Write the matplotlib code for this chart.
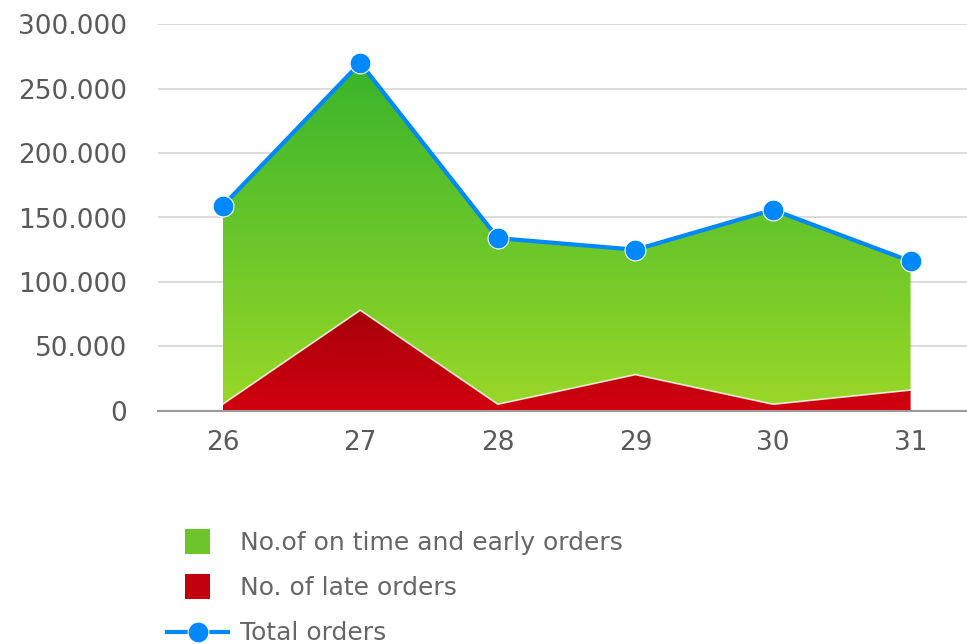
import numpy as np
import matplotlib
matplotlib.use('Agg')
import matplotlib.pyplot as plt
from matplotlib.colors import LinearSegmentedColormap
from matplotlib.patches import PathPatch, Patch, Rectangle
from matplotlib.lines import Line2D
from matplotlib.legend_handler import HandlerPatch
from matplotlib.ticker import FuncFormatter

# data
days = ['26', '27', '28', '29', '30', '31']
late_orders = [5000, 78000, 5000, 28000, 5000, 16000]
ontime_orders = [154000, 192000, 129000, 97000, 151000, 100000]
total_orders = [159000, 270000, 134000, 125000, 156000, 116000]

plt.rcParams['font.family'] = ['DejaVu Sans']

fig = plt.figure(figsize=(9.67, 6.44), dpi=100)
ax = fig.add_axes([158 / 967, 1 - 410.7 / 644, 1 - 158 / 967, (410.7 - 24.3) / 644])

x = np.arange(len(days))
late = np.array(late_orders)
stack_top = late + np.array(ontime_orders)


def gradient_fill(lower, upper, c_bottom, c_top, zorder):
    poly = ax.fill_between(x, lower, upper, color='none', linewidth=0)
    path = poly.get_paths()[0]
    clip = PathPatch(path, transform=ax.transData, facecolor='none', edgecolor='none')
    ax.add_patch(clip)
    cmap = LinearSegmentedColormap.from_list('g', [c_bottom, c_top])
    grad = np.linspace(0, 1, 256).reshape(-1, 1)
    im = ax.imshow(grad, extent=[x[0], x[-1], 0, max(upper)], aspect='auto',
                   cmap=cmap, origin='lower', zorder=zorder, interpolation='bilinear')
    im.set_clip_path(clip)


gradient_fill(late, stack_top, '#9ad828', '#38b42b', 2)
gradient_fill(np.zeros(len(x)), late, '#d2000f', '#a6000a', 3)
ax.plot(x, late, color='white', linewidth=1.2, alpha=0.8, zorder=4)

ax.plot(x, total_orders, color='#0088ff', linewidth=3, marker='o', markersize=15,
        markeredgecolor='white', markeredgewidth=0.8, zorder=5, clip_on=False)

ax.set_xlim(-0.47, 5.41)
ax.set_ylim(0, 300000)
ax.set_yticks(np.arange(0, 300001, 50000))
ax.yaxis.set_major_formatter(FuncFormatter(lambda v, p: '{:,.0f}'.format(v).replace(',', '.')))
ax.set_xticks(x)
ax.set_xticklabels(days)
ax.grid(axis='y', color='#dcdcdc', linewidth=1.5)
ax.set_axisbelow(True)
for s in ['top', 'right', 'left']:
    ax.spines[s].set_visible(False)
ax.spines['bottom'].set_color('#9a9a9a')
ax.spines['bottom'].set_linewidth(1.5)
ax.spines['bottom'].set_zorder(6)
ax.tick_params(axis='both', length=0, labelsize=19, labelcolor='#5a5a5a')
ax.tick_params(axis='y', pad=22)
ax.tick_params(axis='x', pad=14)


def square(legend, orig_handle, xdescent, ydescent, width, height, fontsize):
    s = 18
    return Rectangle((xdescent + width / 2 - s / 2, ydescent + height / 2 - s / 2), s, s)


handles = [Patch(facecolor='#6cc62a', label='No.of on time and early orders'),
           Patch(facecolor='#c2000d', label='No. of late orders'),
           Line2D([], [], color='#0088ff', linewidth=3, marker='o', markersize=15,
                  markeredgecolor='white', markeredgewidth=0.8, label='Total orders')]
fig.legend(handles=handles, loc='upper left', bbox_to_anchor=(167 / 967, 1 - 531 / 644),
           frameon=False, fontsize=18, labelcolor='#666666', handlelength=2.45,
           handletextpad=0.48, labelspacing=0.85, borderpad=0, borderaxespad=0,
           handler_map={Patch: HandlerPatch(patch_func=square)})

fig.savefig('out.png', dpi=100)
